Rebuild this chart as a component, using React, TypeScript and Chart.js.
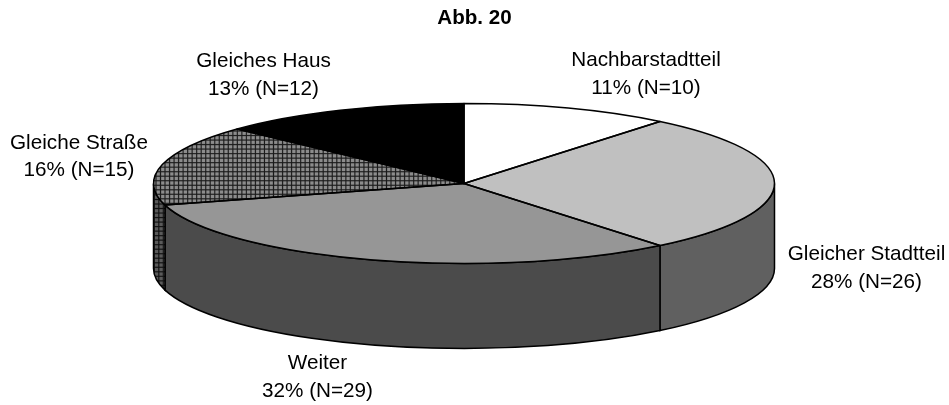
import React, { useEffect, useRef } from "react";
import { Chart, registerables } from "chart.js";

Chart.register(...registerables);

const titleText = "Abb. 20";
const categories = ["Nachbarstadtteil", "Gleicher Stadtteil", "Weiter", "Gleiche Straße", "Gleiches Haus"];
const counts = [10, 26, 29, 15, 12];
const percents = [11, 28, 32, 16, 13];

const topColors = ["#FFFFFF", "#C0C0C0", "#969696", "hatchTop", "#000000"];
const wallColors = ["#808080", "#606060", "#4B4B4B", "hatchWall", "#000000"];
const labelLines = [
  [646, 60, 88],
  [866.5, 254, 282.5],
  [317.5, 363.5, 391.5],
  [79, 143, 170],
  [263.5, 61, 89],
];
const RX = 310.5;
const RY = 80;
const DEPTH = 85;
const CENTER_SHIFT = -10.5;
const HATCH_SCALE = 1.13;
const FONT = '20.7px "Liberation Sans", Arial, sans-serif';

function makePattern(bg: string, line: string): CanvasPattern {
  const c = document.createElement("canvas");
  c.width = 4;
  c.height = 4;
  const g = c.getContext("2d")!;
  g.fillStyle = bg;
  g.fillRect(0, 0, 4, 4);
  g.fillStyle = line;
  g.fillRect(0, 0, 4, 1);
  g.fillRect(0, 0, 1, 4);
  return g.createPattern(c, "repeat")!;
}

export default function App() {
  const ref = useRef<HTMLCanvasElement>(null);
  useEffect(() => {
    const canvas = ref.current!;
    const hatchTop = makePattern("#8C8C8C", "#1A1A1A");
    const hatchWall = makePattern("#5A5A5A", "#101010");
    const resolve = (c: string) => (c === "hatchTop" ? hatchTop : c === "hatchWall" ? hatchWall : c);

    const pie3d = {
      id: "pie3d",
      beforeDatasetsDraw(chart: any) {
        const ctx = chart.ctx as CanvasRenderingContext2D;
        const arcs = chart.getDatasetMeta(0).data;
        const { x: ax, y, outerRadius } = arcs[0];
        const x = ax + CENTER_SHIFT;
        const sx = RX / outerRadius;
        const sy = RY / outerRadius;
        hatchTop.setTransform(new DOMMatrix().scale(HATCH_SCALE / sx, HATCH_SCALE / sy));
        hatchWall.setTransform(new DOMMatrix().scale(HATCH_SCALE, HATCH_SCALE));
        ctx.save();
        ctx.lineWidth = 1.5;
        ctx.strokeStyle = "#000";
        arcs.forEach((a: any, i: number) => {
          for (const k of [-1, 0, 1]) {
            const from = Math.max(a.startAngle + k * 2 * Math.PI, 0);
            const to = Math.min(a.endAngle + k * 2 * Math.PI, Math.PI);
            if (to <= from) continue;
            ctx.beginPath();
            ctx.ellipse(x, y, RX, RY, 0, from, to);
            ctx.ellipse(x, y + DEPTH, RX, RY, 0, to, from, true);
            ctx.closePath();
            ctx.fillStyle = resolve(wallColors[i]);
            ctx.fill();
            ctx.stroke();
          }
        });
        ctx.restore();
        ctx.save();
        ctx.translate(x, y);
        ctx.scale(sx, sy);
        ctx.translate(-ax, -y);
      },
      afterDatasetsDraw(chart: any) {
        const ctx = chart.ctx as CanvasRenderingContext2D;
        ctx.restore();
        const arcs = chart.getDatasetMeta(0).data;
        ctx.save();
        ctx.lineWidth = 1.5;
        ctx.strokeStyle = "#000";
        ctx.lineJoin = "round";
        arcs.forEach((a: any) => {
          const x = a.x + CENTER_SHIFT;
          ctx.beginPath();
          ctx.moveTo(x, a.y);
          ctx.ellipse(x, a.y, RX, RY, 0, a.startAngle, a.endAngle);
          ctx.closePath();
          ctx.stroke();
        });
        ctx.fillStyle = "#000";
        ctx.font = FONT;
        ctx.textAlign = "center";
        ctx.textBaseline = "middle";
        categories.forEach((name, i) => {
          const [cx, y1, y2] = labelLines[i];
          ctx.fillText(name, cx, y1);
          ctx.fillText(`${percents[i]}% (N=${counts[i]})`, cx, y2);
        });
        ctx.restore();
      },
    };

    const chart = new Chart(canvas, {
      type: "pie",
      data: {
        labels: categories,
        datasets: [
          {
            data: counts,
            backgroundColor: topColors.map(resolve) as any,
            borderWidth: 0,
          },
        ],
      },
      options: {
        responsive: false,
        animation: false,
        layout: { padding: { top: 0, left: 0, right: 0, bottom: 78.7 } },
        plugins: {
          legend: { display: false },
          tooltip: { enabled: false },
          title: {
            display: true,
            text: titleText,
            color: "#000",
            font: { family: '"Liberation Sans", Arial, sans-serif', size: 20.6, weight: "bold" },
            padding: { top: 6, bottom: 10 },
          },
        },
      },
      plugins: [pie3d],
    } as any);
    return () => chart.destroy();
  }, []);
  return (
    <div style={{ position: "absolute", left: 0, top: 0, width: 949, height: 405, background: "#fff" }}>
      <canvas ref={ref} width={949} height={405} style={{ display: "block" }} />
    </div>
  );
}
